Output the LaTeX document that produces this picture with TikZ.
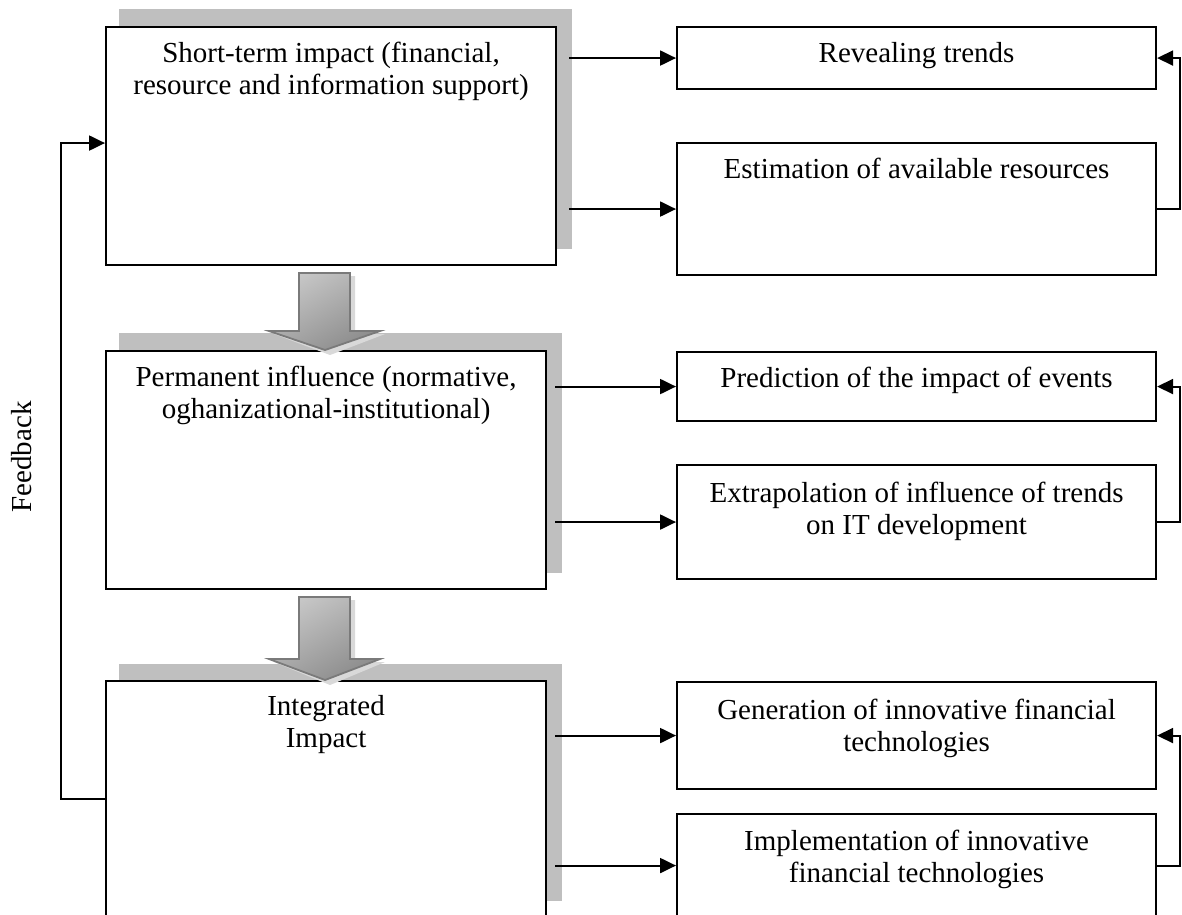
\documentclass[tikz,border=0pt]{standalone}
\usepackage{fontspec}
\setmainfont{Liberation Serif}
\usetikzlibrary{arrows.meta,calc}
\definecolor{shadowgray}{HTML}{BFBFBF}
\definecolor{arrowedge}{HTML}{7A7A7A}
\begin{document}
\begin{tikzpicture}[x=1pt,y=-1pt,
  box/.style={draw=black, line width=2.1pt, fill=white, anchor=north west, inner sep=0pt},
  shadowbox/.style={fill=shadowgray, draw=none, anchor=north west, inner sep=0pt},
  lbl/.style={font=\fontsize{29}{32}\selectfont, align=center, inner sep=0pt, anchor=north},
  arr/.style={line width=2.1pt, -{Triangle[length=16pt,width=15pt]}},
  blockarrow/.style={draw=arrowedge, line width=1.8pt, top color=black!22, bottom color=black!45, shading angle=30},
  arrowshadow/.style={fill=black!15, draw=none}]
\clip (0,0) rectangle (1182,914);
\fill[white] (0,0) rectangle (1182,914);

% shadows
\node[shadowbox, minimum width=453pt, minimum height=240pt] (s1) at (119,9) {};
\node[shadowbox, minimum width=443pt, minimum height=240pt] (s2) at (119,333) {};
\node[shadowbox, minimum width=443pt, minimum height=237pt] (s3) at (119,664) {};

% left boxes
\node[box, minimum width=450pt, minimum height=238pt] (b1) at (105,26) {};
\node[box, minimum width=440pt, minimum height=238pt] (b2) at (105,350) {};
\node[box, minimum width=440pt, minimum height=236pt] (b3) at (105,680) {};

\node[lbl] (t1) at ([yshift=-14pt]b1.north) {\strut Short-term impact (financial,\\resource and information support)};
\node[lbl] (t2) at ([yshift=-14pt]b2.north) {\strut Permanent influence (normative,\\oghanizational-institutional)};
\node[lbl] (t3) at ([yshift=-13pt]b3.north) {\strut Integrated\\Impact};

% right boxes
\node[box, minimum width=479pt, minimum height=62pt] (rt) at (676,26) {};
\node[box, minimum width=479pt, minimum height=132pt] (est) at (676,142) {};
\node[box, minimum width=479pt, minimum height=69pt] (pred) at (676,351) {};
\node[box, minimum width=479pt, minimum height=114pt] (ext) at (676,464) {};
\node[box, minimum width=479pt, minimum height=107pt] (gen) at (676,681) {};
\node[box, minimum width=479pt, minimum height=103pt] (impl) at (676,813) {};

\node[lbl] (trt) at ([yshift=-14pt]rt.north) {\strut Revealing trends};
\node[lbl] (test) at ([yshift=-14pt]est.north) {\strut Estimation of available resources};
\node[lbl] (tpred) at ([yshift=-14pt]pred.north) {\strut Prediction of the impact of events};
\node[lbl] (text) at ([yshift=-16pt]ext.north) {\strut Extrapolation of influence of trends\\on IT development};
\node[lbl] (tgen) at ([yshift=-16pt]gen.north) {\strut Generation of innovative financial\\technologies};
\node[lbl] (timpl) at ([yshift=-15pt]impl.north) {\strut Implementation of innovative\\financial technologies};

% block arrows
\begin{scope}[shift={(b2.north)}]
  \fill[arrowshadow] (-22,-74) -- (29,-74) -- (29,-16) -- (59,-16) -- (4,5) -- (-52,-16) -- (-22,-16) -- cycle;
  \path[blockarrow] (-27,-77) -- (24,-77) -- (24,-19) -- (54,-19) -- (-1,0) -- (-57,-19) -- (-27,-19) -- cycle;
\end{scope}
\begin{scope}[shift={(b3.north)}]
  \fill[arrowshadow] (-22,-80) -- (29,-80) -- (29,-18) -- (59,-18) -- (4,5) -- (-52,-18) -- (-22,-18) -- cycle;
  \path[blockarrow] (-27,-83) -- (24,-83) -- (24,-21) -- (54,-21) -- (-1,0) -- (-57,-21) -- (-27,-21) -- cycle;
\end{scope}

% connectors to the right boxes
\draw[arr] ([xshift=-3pt]s1.east |- rt.west) -- (rt.west);
\draw[arr] ([xshift=-3pt]s1.east |- est.west) -- (est.west);
\draw[arr] ([xshift=-7pt]s2.east |- pred.west) -- (pred.west);
\draw[arr] ([xshift=-7pt]s2.east |- ext.west) -- (ext.west);
\draw[arr] ([xshift=-7pt]s3.east |- gen.west) -- (gen.west);
\draw[arr] ([xshift=-7pt]s3.east |- impl.west) -- (impl.west);

% right feedback loops
\draw[arr] (est.east) -- ++(23,0) |- (rt.east);
\draw[arr] (ext.east) -- ++(23,0) |- (pred.east);
\draw[arr] (impl.east) -- ++(23,0) |- (gen.east);

% left feedback loop
\draw[arr] (b3.west) -- ++(-44,0) |- ([yshift=3pt]b1.west);
\node[font=\fontsize{29}{32}\selectfont, rotate=90, inner sep=0pt] (fb) at (22,457) {Feedback};
\end{tikzpicture}
\end{document}
